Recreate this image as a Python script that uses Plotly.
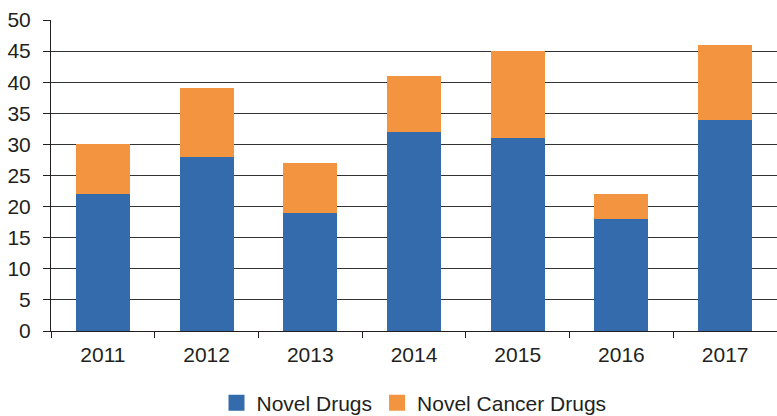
import plotly.graph_objects as go

years = ["2011", "2012", "2013", "2014", "2015", "2016", "2017"]
novel_drugs = [22, 28, 19, 32, 31, 18, 34]
novel_cancer_drugs = [8, 11, 8, 9, 14, 4, 12]
y_ticks = [0, 5, 10, 15, 20, 25, 30, 35, 40, 45, 50]

blue = "#346BAC"
orange = "#F39440"

fig = go.Figure()
fig.add_trace(go.Bar(x=years, y=novel_drugs, name="Novel Drugs", showlegend=False,
                     marker=dict(color=blue, line=dict(width=0))))
fig.add_trace(go.Bar(x=years, y=novel_cancer_drugs, name="Novel Cancer Drugs", showlegend=False,
                     marker=dict(color=orange, line=dict(width=0))))
# legend entries with larger square swatches
for name, col in [("Novel Drugs", blue), ("Novel Cancer Drugs", orange)]:
    fig.add_trace(go.Scatter(x=[None], y=[None], mode="markers", name=name,
                             marker=dict(symbol="square", size=18, color=col),
                             hoverinfo="skip"))

font_family = "Liberation Sans, Arial, sans-serif"
fig.update_layout(
    barmode="stack",
    bargap=0.48,
    width=777, height=416,
    margin=dict(l=51, r=0, t=20, b=85, autoexpand=False),
    plot_bgcolor="white", paper_bgcolor="white",
    font=dict(family=font_family, size=21, color="#231f20"),
    showlegend=True,
    legend=dict(orientation="h", x=0.5, xanchor="center", yref="container",
                y=0.031, yanchor="middle",
                font=dict(size=21, color="#231f20"),
                traceorder="normal"),
    xaxis=dict(showline=True, linecolor="#231f20", linewidth=1,
               ticks="outside", ticklen=6, tickcolor="#231f20", tickson="boundaries",
               tickfont=dict(size=21), showgrid=False, ticklabelstandoff=5),
    yaxis=dict(range=[0, 50], tickvals=y_ticks, showline=True, linecolor="#231f20",
               linewidth=1, ticks="outside", ticklen=7, tickcolor="#231f20",
               showgrid=True, gridcolor="#333333", gridwidth=1, zeroline=False,
               tickfont=dict(size=21), ticklabelstandoff=8),
)
fig.write_html("out.html")
